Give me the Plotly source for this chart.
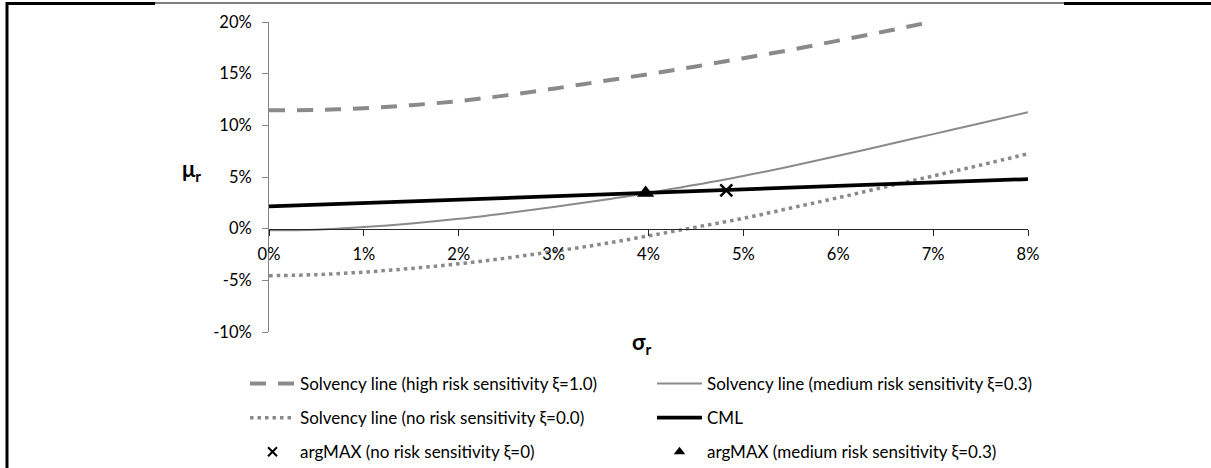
import plotly.graph_objects as go

# ---- data (values in percent) ----
sigma = [0, 0.5, 1, 1.5, 2, 2.5, 3, 3.5, 4, 4.5, 5, 5.5, 6, 6.5, 7, 7.5, 8]
mu_high = [11.45, 11.5, 11.65, 11.95, 12.35, 12.9, 13.55, 14.25, 14.95, 15.7, 16.5, 17.3, 18.2, 19.1, 20.05]
mu_medium = [-0.15, -0.1, 0.15, 0.5, 0.95, 1.5, 2.1, 2.75, 3.45, 4.25, 5.1, 6.05, 7.05, 8.1, 9.15, 10.2, 11.28]
mu_none = [-4.55, -4.45, -4.2, -3.85, -3.4, -2.85, -2.2, -1.5, -0.7, 0.15, 1.0, 2.0, 3.0, 4.05, 5.1, 6.15, 7.25]
cml_sigma = [0, 8]
cml_mu = [2.15, 4.8]
argmax_none = (4.82, 3.7)
argmax_medium = (3.97, 3.44)

x_ticks = [0, 1, 2, 3, 4, 5, 6, 7, 8]
y_ticks = [-10, -5, 0, 5, 10, 15, 20]

names = [
    "Solvency line (high risk sensitivity ξ=1.0)",
    "Solvency line (medium risk sensitivity ξ=0.3)",
    "Solvency line (no risk sensitivity ξ=0.0)",
    "CML",
    "argMAX (no risk sensitivity ξ=0)",
    "argMAX (medium risk sensitivity ξ=0.3)",
]

GRAY = "#8a8a8a"
FONT = "Lato"
W, H = 1211, 468
L, R, T, B = 269, 183, 22, 136
PW, PH = W - L - R, H - T - B


def px2x(px):
    return (px - L) / PW


def py2y(py):
    return 1 - (py - T) / PH


fig = go.Figure()
fig.add_trace(go.Scatter(x=sigma[:len(mu_high)], y=mu_high, mode="lines", name=names[0],
                         line=dict(color=GRAY, width=4, dash="16px,12px", shape="spline"),
                         legend="legend", legendgroup="g1"))
fig.add_trace(go.Scatter(x=sigma, y=mu_medium, mode="lines", name=names[1],
                         line=dict(color=GRAY, width=2, shape="spline"),
                         legend="legend2", legendgroup="g2"))
fig.add_trace(go.Scatter(x=sigma, y=mu_none, mode="lines", name=names[2],
                         line=dict(color=GRAY, width=3.5, dash="3.5px,4px", shape="spline"),
                         legend="legend", legendgroup="g3"))
fig.add_trace(go.Scatter(x=cml_sigma, y=cml_mu, mode="lines", name=names[3],
                         line=dict(color="black", width=3.75),
                         legend="legend2", legendgroup="g4"))
# argMAX markers on the chart
fig.add_trace(go.Scatter(x=[argmax_none[0]], y=[argmax_none[1]], mode="markers", name=names[4],
                         marker=dict(symbol="x-thin", size=12, color="black",
                                     line=dict(color="black", width=2.5)),
                         showlegend=False, legendgroup="g5"))
fig.add_trace(go.Scatter(x=[argmax_medium[0]], y=[argmax_medium[1]], mode="markers", name=names[5],
                         marker=dict(symbol="triangle-up", size=15, color="black"),
                         showlegend=False, legendgroup="g6"))
# legend entries for the markers (smaller symbols, like the reference legend)
fig.add_trace(go.Scatter(x=[None], y=[None], mode="markers", name=names[4],
                         marker=dict(symbol="x-thin", size=9, color="black",
                                     line=dict(color="black", width=2)),
                         legend="legend", legendgroup="g5"))
fig.add_trace(go.Scatter(x=[None], y=[None], mode="markers", name=names[5],
                         marker=dict(symbol="triangle-up", size=10, color="black"),
                         legend="legend2", legendgroup="g6"))

shapes = []
# outer frame lines (cropped table border)
shapes.append(dict(type="line", xref="paper", yref="paper", x0=px2x(7), x1=px2x(7),
                   y0=py2y(2), y1=py2y(470), line=dict(color="black", width=3)))
shapes.append(dict(type="line", xref="paper", yref="paper", x0=px2x(6), x1=px2x(155),
                   y0=py2y(3.5), y1=py2y(3.5), line=dict(color="black", width=3)))
shapes.append(dict(type="line", xref="paper", yref="paper", x0=px2x(155), x1=px2x(1064),
                   y0=py2y(3), y1=py2y(3), line=dict(color="black", width=1)))
shapes.append(dict(type="line", xref="paper", yref="paper", x0=px2x(1064), x1=px2x(1212),
                   y0=py2y(3.5), y1=py2y(3.5), line=dict(color="black", width=3)))

annotations = [
    dict(text="<b>μ<sub>r</sub></b>", xref="paper", yref="paper", x=px2x(191), y=py2y(170),
         showarrow=False, font=dict(family=FONT, size=22, color="black"),
         xanchor="center", yanchor="middle"),
    dict(text="<b>σ<sub>r</sub></b>", xref="paper", yref="paper", x=px2x(642), y=py2y(343),
         showarrow=False, font=dict(family=FONT, size=22, color="black"),
         xanchor="center", yanchor="middle"),
]

legend_common = dict(orientation="v", font=dict(family=FONT, size=17, color="black"),
                     bgcolor="rgba(0,0,0,0)", borderwidth=0, tracegroupgap=9,
                     itemwidth=45, xanchor="left", yanchor="top", traceorder="grouped")

fig.update_layout(
    width=W, height=H,
    margin=dict(l=L, r=R, t=T, b=B, autoexpand=False),
    paper_bgcolor="white", plot_bgcolor="white",
    showlegend=True,
    legend=dict(x=px2x(245), y=py2y(366), **legend_common),
    legend2=dict(x=px2x(652), y=py2y(366), **legend_common),
    shapes=shapes,
    annotations=annotations,
    xaxis=dict(range=[0, 8], tickvals=x_ticks, ticktext=[f"{v}%" for v in x_ticks],
               showgrid=False, zeroline=False, showline=True, linecolor="#262626", linewidth=1,
               ticks="outside", ticklen=6, tickcolor="#262626", tickwidth=1,
               anchor="free", position=1 / 3, ticklabelstandoff=5,
               tickfont=dict(family=FONT, size=16.5, color="black")),
    yaxis=dict(range=[-10, 20], tickvals=y_ticks, ticktext=[f"{v}%" for v in y_ticks],
               showgrid=False, zeroline=False, showline=True, linecolor="#868686", linewidth=1,
               ticks="outside", ticklen=6, tickcolor="#868686", tickwidth=1,
               ticklabelstandoff=7,
               tickfont=dict(family=FONT, size=16.5, color="black")),
)

fig.write_html("out.html")
